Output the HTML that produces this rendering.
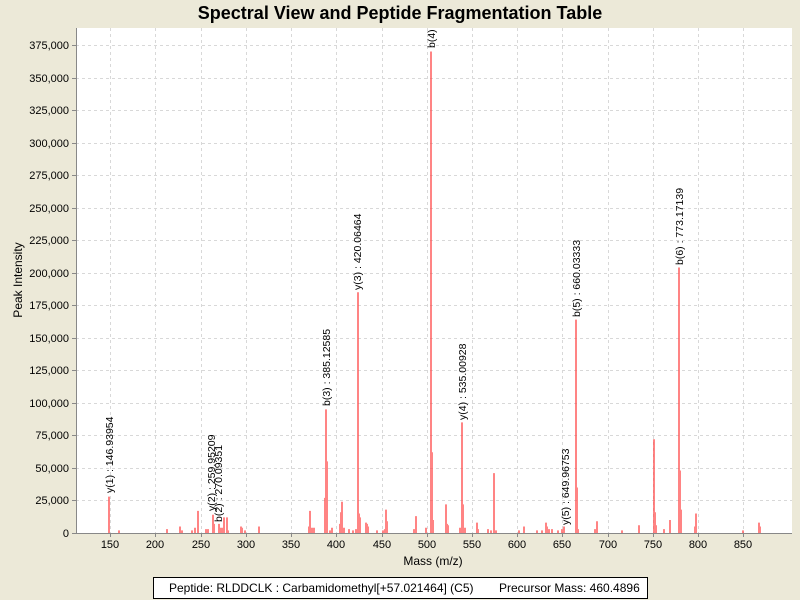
<!DOCTYPE html>
<html><head><meta charset="utf-8"><style>
html,body{margin:0;padding:0;background:#ece9d8;}
svg{display:block;font-family:"Liberation Sans",Arial,sans-serif;}
</style></head><body>
<svg width="800" height="600" viewBox="0 0 800 600" xmlns="http://www.w3.org/2000/svg">
<rect width="800" height="600" fill="#ece9d8"/>
<text x="400" y="19" text-anchor="middle" font-size="18" font-weight="bold" fill="#000">Spectral View and Peptide Fragmentation Table</text>
<rect x="76" y="28" width="716" height="505" fill="#fff"/>
<g stroke="#d8d8d8" stroke-width="1" stroke-dasharray="3,3">
<path d="M110.5 28V533M155.5 28V533M201.5 28V533M246.5 28V533M291.5 28V533M336.5 28V533M382.5 28V533M427.5 28V533M472.5 28V533M517.5 28V533M562.5 28V533M608.5 28V533M653.5 28V533M698.5 28V533M743.5 28V533"/>
<path d="M76 500.5H792M76 468.5H792M76 435.5H792M76 403.5H792M76 370.5H792M76 338.5H792M76 305.5H792M76 273.5H792M76 240.5H792M76 208.5H792M76 175.5H792M76 143.5H792M76 110.5H792M76 78.5H792M76 45.5H792"/>
</g>
<g stroke="#ff5050" stroke-width="2" stroke-opacity="0.7" fill="none">
<path d="M109 533V496.6M119 533V530.4M167 533V529.1M180 533V526.5M182 533V530.4M192 533V530.4M195 533V527.8M198 533V510.9M206 533V529.1M208 533V529.1M213 533V514.8M214 533V523.9M219 533V523.9M220 533V527.8M222 533V527.8M224 533V517.4M227 533V517.4M228 533V530.4M241 533V526.5M242 533V527.8M245 533V530.4M259 533V526.5"/>
<path d="M309 533V526.5M310 533V510.9M312 533V527.8M314 533V527.8M325 533V497.9M326 533V409.4M327 533V461.4M330 533V530.4M332 533V527.8M340 533V523.9M341 533V512.2M342 533V501.8M344 533V527.8M349 533V529.1M353 533V530.4M356 533V529.1M358 533V292.3M359 533V513.5M360 533V517.4M366 533V522.6M367 533V523.9M368 533V526.5M377 533V530.4M383 533V530.4M385 533V529.1M386 533V509.6M387 533V521.3"/>
<path d="M414 533V529.1M416 533V516.1M426 533V527.8M431 533V51.5M432 533V452.3M433 533V520M446 533V504.4M447 533V523.9M448 533V525.2M460 533V527.8M462 533V422.4M463 533V504.4M465 533V527.8M477 533V522.6M478 533V529.1M488 533V529.1M491 533V530.4M494 533V473.1M496 533V530.4M519 533V530.4M524 533V526.5M537 533V530.4M542 533V530.4M546 533V522.6M547 533V526.5M549 533V529.1M552 533V529.1M558 533V530.4M562 533V529.1M564 533V526.5M576 533V319.6M577 533V487.5M578 533V529.1M595 533V529.1M597 533V521.3M622 533V530.4M639 533V525.2M654 533V439.3M655 533V512.2M656 533V525.2M664 533V529.1M670 533V520M679 533V267.5M680 533V470.5M681 533V509.6M695 533V526.5M696 533V513.5M743 533V530.4M759 533V522.6M760 533V526.5"/>
</g>
<g font-size="10.5" fill="#000">
<text transform="translate(113,493) rotate(-90)">y(1) : 146.93954</text>
<text transform="translate(215,511) rotate(-90)">y(2) : 259.95209</text>
<text transform="translate(222,522) rotate(-90)">b(2) : 270.09351</text>
<text transform="translate(330,406) rotate(-90)">b(3) : 385.12585</text>
<text transform="translate(361,290) rotate(-90)">y(3) : 420.06464</text>
<text transform="translate(435,48) rotate(-90)">b(4)</text>
<text transform="translate(466,420) rotate(-90)">y(4) : 535.00928</text>
<text transform="translate(569,525) rotate(-90)">y(5) : 649.96753</text>
<text transform="translate(580,317) rotate(-90)">b(5) : 660.03333</text>
<text transform="translate(683,265) rotate(-90)">b(6) : 773.17139</text>
</g>
<g stroke="#888" stroke-width="1" fill="none">
<path d="M76.5 28V533.5H792"/>
<path d="M72 500.5H76M72 468.5H76M72 435.5H76M72 403.5H76M72 370.5H76M72 338.5H76M72 305.5H76M72 273.5H76M72 240.5H76M72 208.5H76M72 175.5H76M72 143.5H76M72 110.5H76M72 78.5H76M72 45.5H76M72 533.5H76"/>
<path d="M110.5 533V537M155.5 533V537M201.5 533V537M246.5 533V537M291.5 533V537M336.5 533V537M382.5 533V537M427.5 533V537M472.5 533V537M517.5 533V537M562.5 533V537M608.5 533V537M653.5 533V537M698.5 533V537M743.5 533V537"/>
</g>
<g font-size="11" fill="#000" text-anchor="end">
<text x="69" y="537">0</text><text x="69" y="504">25,000</text><text x="69" y="472">50,000</text><text x="69" y="439">75,000</text><text x="69" y="407">100,000</text><text x="69" y="374">125,000</text><text x="69" y="342">150,000</text><text x="69" y="309">175,000</text><text x="69" y="277">200,000</text><text x="69" y="244">225,000</text><text x="69" y="212">250,000</text><text x="69" y="179">275,000</text><text x="69" y="147">300,000</text><text x="69" y="114">325,000</text><text x="69" y="82">350,000</text><text x="69" y="49">375,000</text>
</g>
<g font-size="11" fill="#000" text-anchor="middle">
<text x="110" y="548">150</text><text x="155" y="548">200</text><text x="201" y="548">250</text><text x="246" y="548">300</text><text x="291" y="548">350</text><text x="336" y="548">400</text><text x="382" y="548">450</text><text x="427" y="548">500</text><text x="472" y="548">550</text><text x="517" y="548">600</text><text x="562" y="548">650</text><text x="608" y="548">700</text><text x="653" y="548">750</text><text x="698" y="548">800</text><text x="743" y="548">850</text>
</g>
<text x="433" y="565" font-size="12" text-anchor="middle">Mass (m/z)</text>
<text transform="translate(22,280) rotate(-90)" font-size="12" text-anchor="middle">Peak Intensity</text>
<rect x="153.5" y="577.5" width="494" height="21" fill="#fff" stroke="#000"/>
<text x="169" y="592" font-size="12">Peptide: RLDDCLK : Carbamidomethyl[+57.021464] (C5)</text>
<text x="499" y="592" font-size="12">Precursor Mass: 460.4896</text>
</svg>
</body></html>
